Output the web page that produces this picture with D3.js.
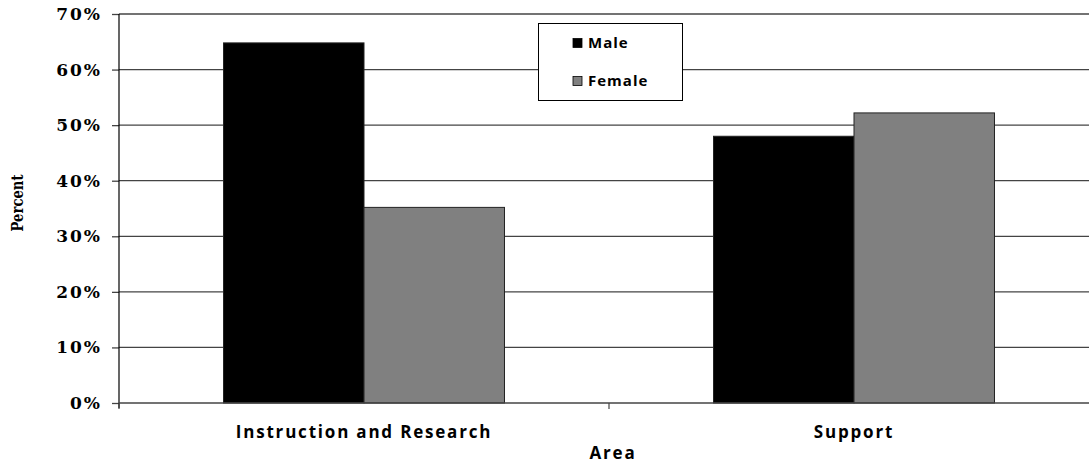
<!DOCTYPE html>
<html><head><meta charset="utf-8">
<script src="https://cdn.jsdelivr.net/npm/d3@7"></script>
<style>body{margin:0;background:#fff;overflow:hidden}</style>
</head><body>
<svg id="c" width="1089" height="465"></svg>
<script>
const categories = ["Instruction and Research", "Support"];
const seriesNames = ["Male", "Female"];
const maleValues = [64.8, 48.0];
const femaleValues = [35.2, 52.2];
const yTicks = [0, 10, 20, 30, 40, 50, 60, 70];
const colors = ["#000000", "#808080"];

const svg = d3.select("#c");
const m = {left: 119, right: 1099, top: 14, bottom: 403};
const x = d3.scaleBand().domain(categories).range([m.left, m.right]).paddingInner(0).paddingOuter(0);
const x1 = d3.scaleBand().domain(seriesNames).range([0, x.bandwidth()]).paddingInner(0).paddingOuter(0.744);
const y = d3.scaleLinear().domain([0, 70]).range([m.bottom, m.top]);

// gridlines
svg.append("g").selectAll("line").data(yTicks.filter(d => d > 0)).join("line")
  .attr("x1", m.left).attr("x2", m.right)
  .attr("y1", d => y(d)).attr("y2", d => y(d))
  .attr("stroke", "#444").attr("stroke-width", 1.3);

// bars
const data = categories.map((c, i) => ({c, vals: [maleValues[i], femaleValues[i]]}));
const g = svg.append("g");
data.forEach(d => {
  d.vals.forEach((v, j) => {
    g.append("rect")
      .attr("x", x(d.c) + x1(seriesNames[j]))
      .attr("width", x1.bandwidth())
      .attr("y", y(v)).attr("height", y(0) - y(v))
      .attr("fill", colors[j]).attr("stroke", "#222").attr("stroke-width", 1);
  });
});

// y axis
const yAxis = d3.axisLeft(y).tickValues(yTicks).tickFormat(d => d + "%").tickSize(7).tickPadding(10);
const ya = svg.append("g").attr("transform", `translate(${m.left},0)`).call(yAxis);
ya.select(".domain").remove();
ya.append("line").attr("x1", 0).attr("x2", 0).attr("y1", m.top).attr("y2", m.bottom + 5).attr("stroke", "#000").attr("stroke-width", 1.2);
ya.selectAll(".tick line").attr("stroke", "#444").attr("stroke-width", 1.3);
ya.selectAll(".tick text").attr("fill", "#000")
  .style("font-family", "'DejaVu Serif', serif").style("font-weight", "bold").style("font-size", "17px").style("letter-spacing", "2px");

// x axis
svg.append("line").attr("x1", m.left).attr("x2", m.right).attr("y1", m.bottom).attr("y2", m.bottom).attr("stroke", "#444").attr("stroke-width", 1.5);
const boundaries = [m.left, ...categories.slice(1).map(c => x(c))];
svg.append("g").selectAll("line").data(boundaries).join("line")
  .attr("x1", d => d).attr("x2", d => d).attr("y1", m.bottom).attr("y2", m.bottom + 6)
  .attr("stroke", "#444").attr("stroke-width", 1.2);
svg.append("g").selectAll("text").data(categories).join("text")
  .attr("x", d => x(d) + x.bandwidth() / 2).attr("y", 438)
  .attr("text-anchor", "middle")
  .style("font-family", "'Open Sans', sans-serif").style("font-weight", "bold").style("font-size", "17px").style("letter-spacing", "1.8px")
  .text(d => d);

svg.append("text").attr("x", 613).attr("y", 459).attr("text-anchor", "middle")
  .style("font-family", "'Open Sans', sans-serif").style("font-weight", "bold").style("font-size", "17px").style("letter-spacing", "1.8px").text("Area");

svg.append("text").attr("transform", "translate(23,203) rotate(-90)").attr("text-anchor", "middle")
  .attr("textLength", 57).attr("lengthAdjust", "spacingAndGlyphs")
  .style("font-family", "'DejaVu Serif', serif").style("font-weight", "bold").style("font-size", "16px").text("Percent");

// legend
const lg = svg.append("g");
lg.append("rect").attr("x", 538.5).attr("y", 23.5).attr("width", 144).attr("height", 77)
  .attr("fill", "#fff").attr("stroke", "#000").attr("stroke-width", 1);
seriesNames.forEach((s, i) => {
  const yy = 43 + i * 38;
  lg.append("rect").attr("x", 573).attr("y", yy - 4.5).attr("width", 9).attr("height", 9)
    .attr("fill", colors[i]).attr("stroke", "#000").attr("stroke-width", 0.8);
  lg.append("text").attr("x", 588).attr("y", yy + 5)
    .style("font-family", "'Open Sans', sans-serif").style("font-weight", "bold").style("font-size", "15px").style("letter-spacing", "1px").text(s);
});
</script>
</body></html>
